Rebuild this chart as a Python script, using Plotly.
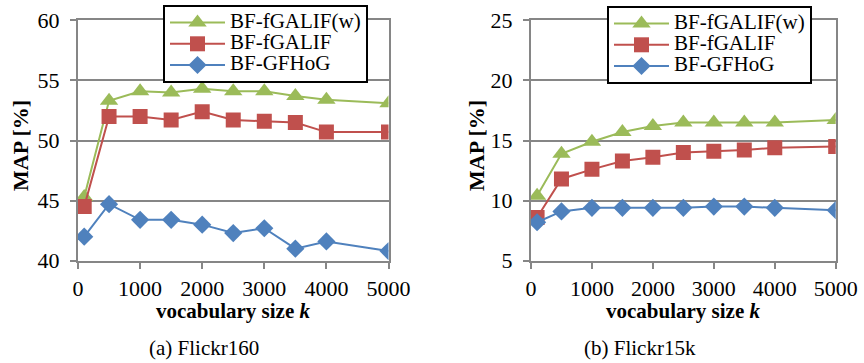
import plotly.graph_objects as go

k_values = [100, 500, 1000, 1500, 2000, 2500, 3000, 3500, 4000, 5000]

# (a) Flickr160
f160_fgalif_w = [45.3, 53.3, 54.1, 54.0, 54.3, 54.1, 54.1, 53.7, 53.4, 53.1]
f160_fgalif = [44.5, 52.0, 52.0, 51.7, 52.4, 51.7, 51.6, 51.5, 50.7, 50.7]
f160_gfhog = [42.0, 44.7, 43.4, 43.4, 43.0, 42.3, 42.7, 41.0, 41.6, 40.8]

# (b) Flickr15k
f15k_fgalif_w = [10.4, 13.9, 14.9, 15.7, 16.2, 16.5, 16.5, 16.5, 16.5, 16.7]
f15k_fgalif = [8.6, 11.8, 12.6, 13.3, 13.6, 14.0, 14.1, 14.2, 14.4, 14.5]
f15k_gfhog = [8.2, 9.1, 9.4, 9.4, 9.4, 9.4, 9.5, 9.5, 9.4, 9.2]

series_names = ["BF-fGALIF(w)", "BF-fGALIF", "BF-GFHoG"]
colors = ["#9BBB59", "#C0504D", "#4F81BD"]
symbols = ["triangle-up", "square", "diamond"]
sizes = [16, 15, 14]

x_ticks = [0, 1000, 2000, 3000, 4000, 5000]
captions = ["(a) Flickr160", "(b) Flickr15k"]

FONT = "Liberation Serif"
W, H = 864, 363

fig = go.Figure()

panels = [
    (f160_fgalif_w, f160_fgalif, f160_gfhog, "x", "y", "legend"),
    (f15k_fgalif_w, f15k_fgalif, f15k_gfhog, "x2", "y2", "legend2"),
]
for vals_w, vals_f, vals_g, xa, ya, lg in panels:
    for name, vals, c, s, sz in zip(series_names, [vals_w, vals_f, vals_g], colors, symbols, sizes):
        fig.add_trace(go.Scatter(
            x=k_values, y=vals, mode="lines+markers",
            name='<span style="font-size:21px">%s</span>' % name,
            line=dict(color=c, width=2),
            marker=dict(symbol=s, size=sz, color=c, line=dict(width=0)),
            xaxis=xa, yaxis=ya, legend=lg,
        ))

axis_common = dict(
    showline=True, linecolor="#868686", linewidth=2, mirror=True,
    ticks="outside", tickcolor="#868686", tickwidth=2, ticklen=6,
    tickfont=dict(family=FONT, size=22, color="black"),
    zeroline=False, automargin=False,
)

def px_x(v):
    return v / W

def px_y(v):
    return 1 - v / H

legend_common = dict(
    xanchor="left", yanchor="top",
    bgcolor="white", bordercolor="black", borderwidth=2,
    font=dict(family=FONT, size=14, color="black"), itemwidth=55,
    tracegroupgap=0,
)

fig.update_layout(
    width=W, height=H,
    margin=dict(l=0, r=0, t=0, b=0, autoexpand=False),
    paper_bgcolor="white", plot_bgcolor="white",
    font=dict(family=FONT, color="black"),
    xaxis=dict(domain=[px_x(78), px_x(388.5)], range=[0, 5000], tickvals=x_ticks,
               showgrid=False, anchor="y", ticklabelstandoff=1, **axis_common),
    yaxis=dict(domain=[px_y(260.7), px_y(20.3)], range=[40, 60], dtick=5,
               showgrid=True, gridcolor="#868686", gridwidth=2, anchor="x",
               ticklabelstandoff=6, **axis_common),
    xaxis2=dict(domain=[px_x(531), px_x(835.7)], range=[0, 5000], tickvals=x_ticks,
                showgrid=False, anchor="y2", ticklabelstandoff=1, **axis_common),
    yaxis2=dict(domain=[px_y(260.7), px_y(20.3)], range=[5, 25], dtick=5,
                showgrid=True, gridcolor="#868686", gridwidth=2, anchor="x2",
                ticklabelstandoff=6, **axis_common),
    legend=dict(x=px_x(163), y=px_y(5), **legend_common),
    legend2=dict(x=px_x(607), y=px_y(6), **legend_common),
)

annotations = []
for xc, caption, cap_x, ytitle_x in [(233, captions[0], 204, 20), (683, captions[1], 640, 476)]:
    annotations.append(dict(text="<b>vocabulary size <i>k</i></b>", x=px_x(xc), y=px_y(311),
                            xref="paper", yref="paper", showarrow=False,
                            xanchor="center", yanchor="middle",
                            font=dict(family=FONT, size=21, color="black")))
    annotations.append(dict(text=caption, x=px_x(cap_x), y=px_y(348),
                            xref="paper", yref="paper", showarrow=False,
                            xanchor="center", yanchor="middle",
                            font=dict(family=FONT, size=21, color="black")))
    annotations.append(dict(text="<b>MAP [%]</b>", x=px_x(ytitle_x), y=px_y(146),
                            xref="paper", yref="paper", showarrow=False, textangle=-90,
                            xanchor="center", yanchor="middle",
                            font=dict(family=FONT, size=22, color="black")))
fig.update_layout(annotations=annotations)

fig.write_html("out.html", config={"displayModeBar": False},
               post_script="document.body.style.margin='0';")
